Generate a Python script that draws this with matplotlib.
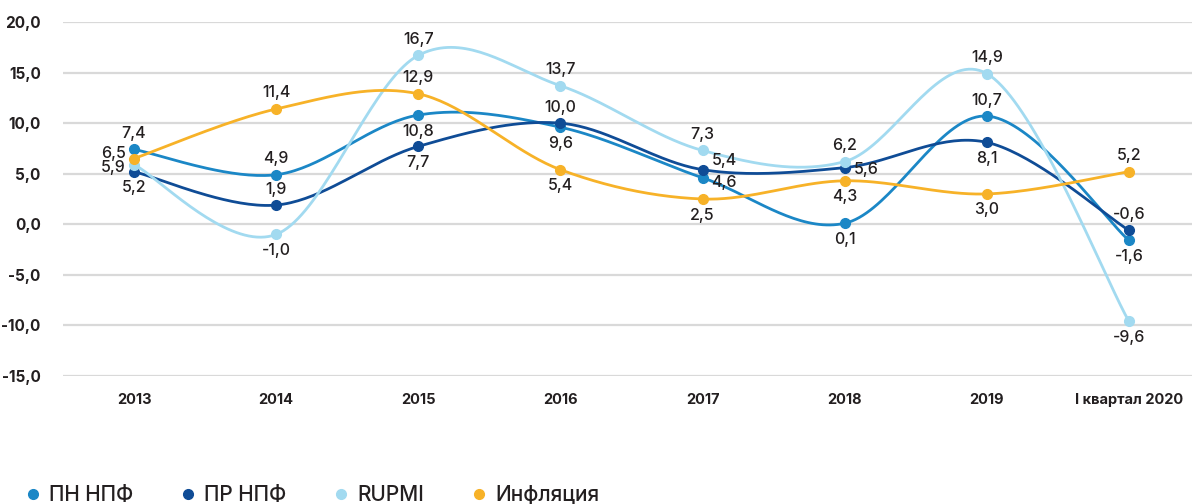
import numpy as np
import matplotlib
matplotlib.use('Agg')
import matplotlib.pyplot as plt
from matplotlib.lines import Line2D

plt.rcParams['font.family'] = ['Inter', 'DejaVu Sans']

categories = ['2013', '2014', '2015', '2016', '2017', '2018', '2019', 'I квартал 2020']
pn_npf = [7.4, 4.9, 10.8, 9.6, 4.6, 0.1, 10.7, -1.6]
pr_npf = [5.2, 1.9, 7.7, 10.0, 5.4, 5.6, 8.1, -0.6]
rupmi = [5.9, -1.0, 16.7, 13.7, 7.3, 6.2, 14.9, -9.6]
inflation = [6.5, 11.4, 12.9, 5.4, 2.5, 4.3, 3.0, 5.2]

# label placement per point: u = above, d = below, lu/ld = left, ru/rd = right
pn_pos = ['u', 'u', 'd', 'd', 'rd', 'd', 'u', 'd']
pr_pos = ['d', 'u', 'd', 'u', 'ru', 'r', 'd', 'u']
rupmi_pos = ['ld', 'd', 'u', 'u', 'u', 'u', 'u', 'd']
infl_pos = ['lu', 'u', 'u', 'd', 'd', 'd', 'd', 'u']

series = [
    ('ПН НПФ', pn_npf, '#1B87C6', pn_pos),
    ('ПР НПФ', pr_npf, '#0F4C96', pr_pos),
    ('RUPMI', rupmi, '#A2DAF0', rupmi_pos),
    ('Инфляция', inflation, '#F7B228', infl_pos),
]


def smooth(xs, ys, n=40):
    # cubic bezier through the points, catmull-rom style tangents (like excel's smoothed line)
    xs = np.asarray(xs, float)
    ys = np.asarray(ys, float)
    px, py = [], []
    m = len(xs)
    for i in range(m - 1):
        i0 = max(i - 1, 0)
        i3 = min(i + 2, m - 1)
        c1x = xs[i] + (xs[i + 1] - xs[i0]) / 6
        c1y = ys[i] + (ys[i + 1] - ys[i0]) / 6
        c2x = xs[i + 1] - (xs[i3] - xs[i]) / 6
        c2y = ys[i + 1] - (ys[i3] - ys[i]) / 6
        t = np.linspace(0, 1, n)
        a = (1 - t) ** 3
        b = 3 * (1 - t) ** 2 * t
        c = 3 * (1 - t) * t ** 2
        d = t ** 3
        px.extend(a * xs[i] + b * c1x + c * c2x + d * xs[i + 1])
        py.extend(a * ys[i] + b * c1y + c * c2y + d * ys[i + 1])
    return px, py


fig = plt.figure(figsize=(11.92, 5.04), dpi=100)
ax = fig.add_axes([63 / 1192, 128 / 504, (1200 - 63) / 1192, 354 / 504])

x = np.arange(len(categories))
offsets = {'u': (0, 16, 'center'), 'd': (0, -16, 'center'),
           'lu': (-8, 5, 'right'), 'ld': (-8, -3, 'right'),
           'r': (9, -2, 'left'), 'ru': (9, 9, 'left'), 'rd': (9, -5, 'left')}

for name, vals, color, pos in series:
    sx, sy = smooth(x, vals)
    ax.plot(sx, sy, color=color, lw=2.0, solid_capstyle='round', zorder=3)
    ax.plot(x, vals, 'o', color=color, ms=7, zorder=4)
    for xi, v, p in zip(x, vals, pos):
        dx, dy, ha = offsets[p]
        ax.annotate(f'{v:.1f}'.replace('.', ','), (xi, v), xytext=(dx, dy),
                    textcoords='offset pixels', ha=ha, va='center',
                    fontsize=11.5, fontweight='medium', color='#231F20', zorder=5)

ax.set_xlim(-0.5, len(categories) - 0.5)
ax.set_ylim(-15, 20)
ax.set_yticks(np.arange(-15, 21, 5))
ax.set_yticklabels([f'{v:.1f}'.replace('.', ',') for v in np.arange(-15, 21, 5)])
ax.set_xticks(x)
ax.set_xticklabels(categories)
ax.grid(axis='y', color='#D9D9D9', lw=1.6)
ax.set_axisbelow(True)
for s in ax.spines.values():
    s.set_visible(False)
ax.tick_params(length=0, labelcolor='#231F20')
ax.tick_params(axis='y', pad=16, labelsize=11)
ax.tick_params(axis='x', pad=12, labelsize=10.5)
for lab in ax.get_xticklabels() + ax.get_yticklabels():
    lab.set_fontweight('bold')

handles = [Line2D([], [], marker='o', ls='', color=c, ms=7) for _, _, c, _ in series]
leg = fig.legend(handles, [s[0] for s in series], loc='lower left', bbox_to_anchor=(0.003, -0.04),
                 ncol=4, frameon=False, fontsize=15, handletextpad=0.3, columnspacing=2.1,
                 handlelength=1.0, labelcolor='#231F20')
for t in leg.get_texts():
    t.set_fontweight('medium')

fig.savefig('out.png', dpi=100)
